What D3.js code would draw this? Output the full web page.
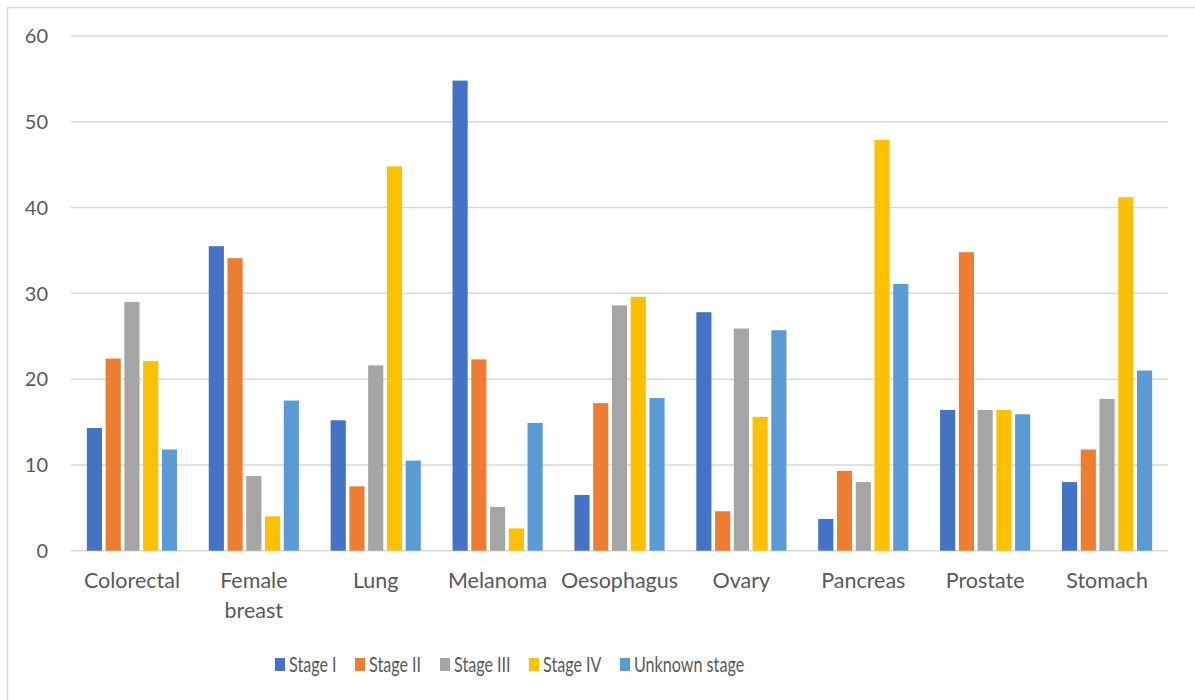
<!DOCTYPE html>
<html>
<head>
<meta charset="utf-8">
<script src="https://cdn.jsdelivr.net/npm/d3@7"></script>
<style>
  body { margin: 0; background: #fff; }
  text { font-family: Lato, "Open Sans", sans-serif; fill: #595959; }
</style>
</head>
<body>
<div id="chart"></div>
<script>
// Data (percent of cases by stage)
var categories = ["Colorectal", "Female breast", "Lung", "Melanoma", "Oesophagus",
                  "Ovary", "Pancreas", "Prostate", "Stomach"];
var seriesNames = ["Stage I", "Stage II", "Stage III", "Stage IV", "Unknown stage"];
var stageI   = [14.3, 35.5, 15.2, 54.8,  6.5, 27.8,  3.7, 16.4,  8.0];
var stageII  = [22.4, 34.1,  7.5, 22.3, 17.2,  4.6,  9.3, 34.8, 11.8];
var stageIII = [29.0,  8.7, 21.6,  5.1, 28.6, 25.9,  8.0, 16.4, 17.7];
var stageIV  = [22.1,  4.0, 44.8,  2.6, 29.6, 15.6, 47.9, 16.4, 41.2];
var unknown  = [11.8, 17.5, 10.5, 14.9, 17.8, 25.7, 31.1, 15.9, 21.0];
var yTicks = [0, 10, 20, 30, 40, 50, 60];

var seriesValues = [stageI, stageII, stageIII, stageIV, unknown];
var colors = ["#4472C4", "#ED7D31", "#A5A5A5", "#FFC000", "#5B9BD5"];

var width = 1195, height = 700;
var plotLeft = 71, plotRight = 1168, plotTop = 36, plotBottom = 550.7;

var svg = d3.select("#chart")
    .append("svg")
    .attr("width", width)
    .attr("height", height);

// outer chart border
svg.append("rect")
    .attr("x", 7.5).attr("y", 7.5)
    .attr("width", width + 20).attr("height", height + 20)
    .attr("fill", "none")
    .attr("stroke", "#d9d9d9")
    .attr("stroke-width", 1.5);

var x0 = d3.scaleBand().domain(categories).range([plotLeft, plotRight]);
var x1 = d3.scaleBand().domain(seriesNames).range([0, x0.bandwidth()]).paddingOuter(0.75);
var y = d3.scaleLinear().domain([0, 60]).range([plotBottom, plotTop]);

// gridlines
svg.append("g")
    .selectAll("line")
    .data(yTicks)
    .enter()
    .append("line")
    .attr("x1", plotLeft).attr("x2", plotRight)
    .attr("y1", function(d) { return y(d); })
    .attr("y2", function(d) { return y(d); })
    .attr("stroke", "#d9d9d9")
    .attr("stroke-width", 1.5);

// y tick labels
svg.append("g")
    .selectAll("text")
    .data(yTicks)
    .enter()
    .append("text")
    .attr("x", 48)
    .attr("y", function(d) { return y(d); })
    .attr("dy", "0.36em")
    .attr("text-anchor", "end")
    .attr("font-size", 20)
    .text(function(d) { return d; });

// bars
var table = [];
categories.forEach(function(c, i) {
    seriesNames.forEach(function(s, j) {
        table.push({cat: c, series: s, value: seriesValues[j][i], color: colors[j]});
    });
});

svg.append("g")
    .selectAll("rect")
    .data(table)
    .enter()
    .append("rect")
    .attr("x", function(d) { return x0(d.cat) + x1(d.series) + 1.8; })
    .attr("y", function(d) { return y(d.value); })
    .attr("width", x1.bandwidth() - 3.6)
    .attr("height", function(d) { return y(0) - y(d.value); })
    .attr("fill", function(d) { return d.color; });

// category labels (wrap on space where needed)
var catLabels = svg.append("g")
    .selectAll("text")
    .data(categories)
    .enter()
    .append("text")
    .attr("text-anchor", "middle")
    .attr("font-size", 21.5)
    .attr("x", function(d) { return x0(d) + x0.bandwidth() / 2; })
    .attr("y", 588);

catLabels.each(function(d) {
    var words = d === "Female breast" ? ["Female", "breast"] : [d];
    var t = d3.select(this);
    words.forEach(function(w, k) {
        t.append("tspan")
            .attr("x", x0(d) + x0.bandwidth() / 2)
            .attr("dy", k === 0 ? 0 : 30)
            .text(w);
    });
});

// legend
var legendX = [275, 355, 440, 529, 620];
var legend = svg.append("g")
    .selectAll("g")
    .data(seriesNames)
    .enter()
    .append("g")
    .attr("transform", function(d, i) { return "translate(" + legendX[i] + ",658)"; });

legend.append("rect")
    .attr("width", 10).attr("height", 13)
    .attr("fill", function(d, i) { return colors[i]; });

legend.append("text")
    .attr("x", 14)
    .attr("y", 6.5)
    .attr("dy", "0.36em")
    .attr("font-size", 21.5)
    .text(function(d) { return d; })
    .each(function() {
        // the reference legend is set in a narrow face; squeeze to match
        var w = this.getComputedTextLength();
        d3.select(this)
            .attr("textLength", w * 0.75)
            .attr("lengthAdjust", "spacingAndGlyphs");
    });
</script>
</body>
</html>
